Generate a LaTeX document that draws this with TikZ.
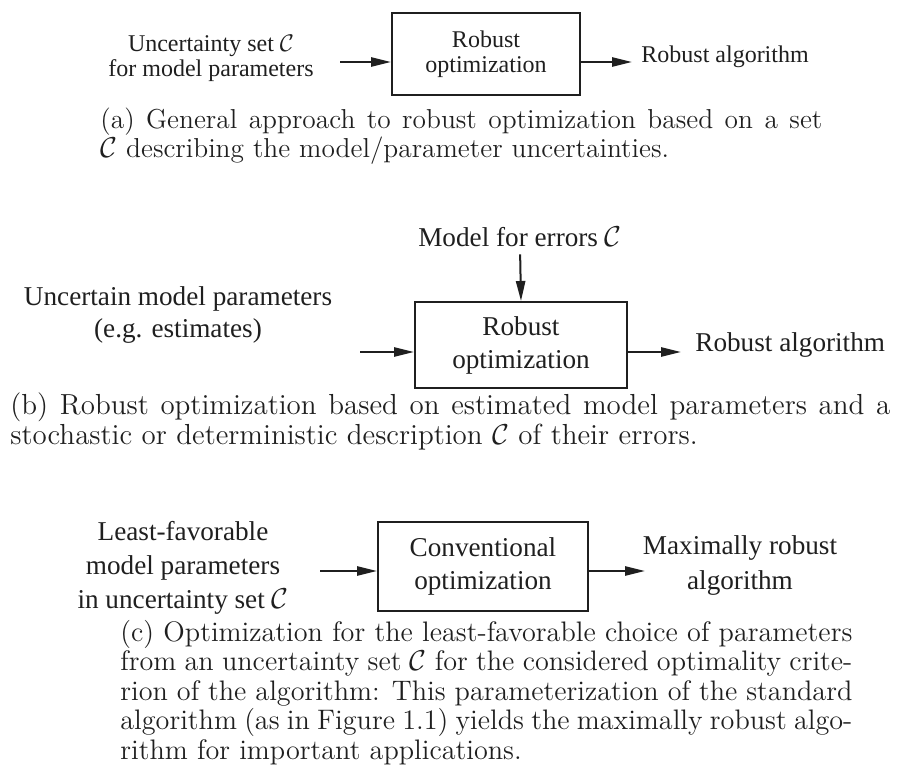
\documentclass[tikz,border=0pt]{standalone}
\usepackage{fontspec}
\newfontfamily\diagfont{Liberation Serif}
\usetikzlibrary{arrows.meta}

\definecolor{ink}{gray}{0.12}

\tikzset{
  flowbox/.style={draw=ink, line width=1pt, inner sep=0pt, align=center, text=ink},
  lbl/.style={inner sep=0pt, align=center, text=ink},
  smallfont/.style={font=\diagfont\fontsize{12pt}{12.5pt}\selectfont},
  bigfont/.style={font=\diagfont\fontsize{13.6pt}{16.5pt}\selectfont},
  flow/.style={draw=ink, line width=1pt, -{Triangle[length=10pt,width=4.6pt]}},
  capt/.style={inner sep=0pt, anchor=base west, align=justify, text=ink}
}

\begin{document}
\begin{tikzpicture}[x=0.5pt, y=-0.5pt]
\useasboundingbox (0,0) rectangle (900,775);

% ---------- (a) general approach ----------
\node[flowbox, smallfont, minimum width=94pt, minimum height=41pt] (boxa) at (486,54)
  {Robust\\optimization};
\node[lbl, smallfont] (ina) at (211,58) {Uncertainty set $\mathcal{C}$\\for model parameters};
\node[lbl, smallfont, anchor=west] (outa) at (641,57) {Robust algorithm};
\coordinate (ina-end) at (340,62);
\draw[flow] (ina-end) -- (ina-end -| boxa.west);
\draw[flow, shorten >=4.5pt] (boxa.east |- ina-end) -- (ina-end -| outa.west);
\node[capt, text width=361pt, font=\fontsize{13.7pt}{14.5pt}\selectfont] (capa) at (100,129)
  {(a) General approach to robust optimization based on a set\linebreak
   $\mathcal{C}$ describing the model/parameter uncertainties.};

% ---------- (b) estimated parameters ----------
\node[flowbox, bigfont, minimum width=106pt, minimum height=43pt] (boxb) at (521,345)
  {Robust\\optimization};
\node[lbl, bigfont] (errb) at (520,237) {Model for errors $\mathcal{C}$};
\node[lbl, bigfont] (inb) at (178,315)
  {Uncertain model parameters\\(e.g. estimates)};
\node[lbl, bigfont, anchor=west] (outb) at (695,345) {Robust algorithm};
\coordinate (inb-end) at (360,352);
\draw[flow, shorten <=3.5pt] (errb.south) -- (boxb.north);
\draw[flow] (inb-end) -- (inb-end -| boxb.west);
\draw[flow, shorten >=7pt] (boxb.east |- inb-end) -- (inb-end -| outb.west);
\node[capt, text width=440pt, font=\fontsize{14.5pt}{14.75pt}\selectfont] (capb) at (10,415)
  {(b) Robust optimization based on estimated model parameters and a\linebreak
   stochastic or deterministic description $\mathcal{C}$ of their errors.};

% ---------- (c) least-favorable parameters ----------
\node[flowbox, bigfont, minimum width=105pt, minimum height=44.5pt] (boxc) at (483,566.5)
  {Conventional\\optimization};
\node[lbl, bigfont, font=\diagfont\fontsize{13.6pt}{17pt}\selectfont] (inc) at (183,568)
  {Least-favorable\\model parameters\\in uncertainty set $\mathcal{C}$};
\node[lbl, bigfont, font=\diagfont\fontsize{13.6pt}{17.5pt}\selectfont] (outc) at (740,565)
  {Maximally robust\\algorithm};
\coordinate (inc-end) at (320,571);
\draw[flow] (inc-end) -- (inc-end -| boxc.west);
\draw[flow] (boxc.east |- inc-end) -- (645,571) coordinate (outc-tip);
\node[capt, text width=366pt, font=\fontsize{14.1pt}{14.75pt}\selectfont] (capc) at (120,641)
  {(c) Optimization for the least-favorable choice of parameters\linebreak
   from an uncertainty set $\mathcal{C}$ for the considered optimality crite-\linebreak
   rion of the algorithm: This parameterization of the standard\linebreak
   algorithm (as in Figure 1.1) yields the maximally robust algo-\linebreak
   rithm for important applications.};
\end{tikzpicture}
\end{document}
